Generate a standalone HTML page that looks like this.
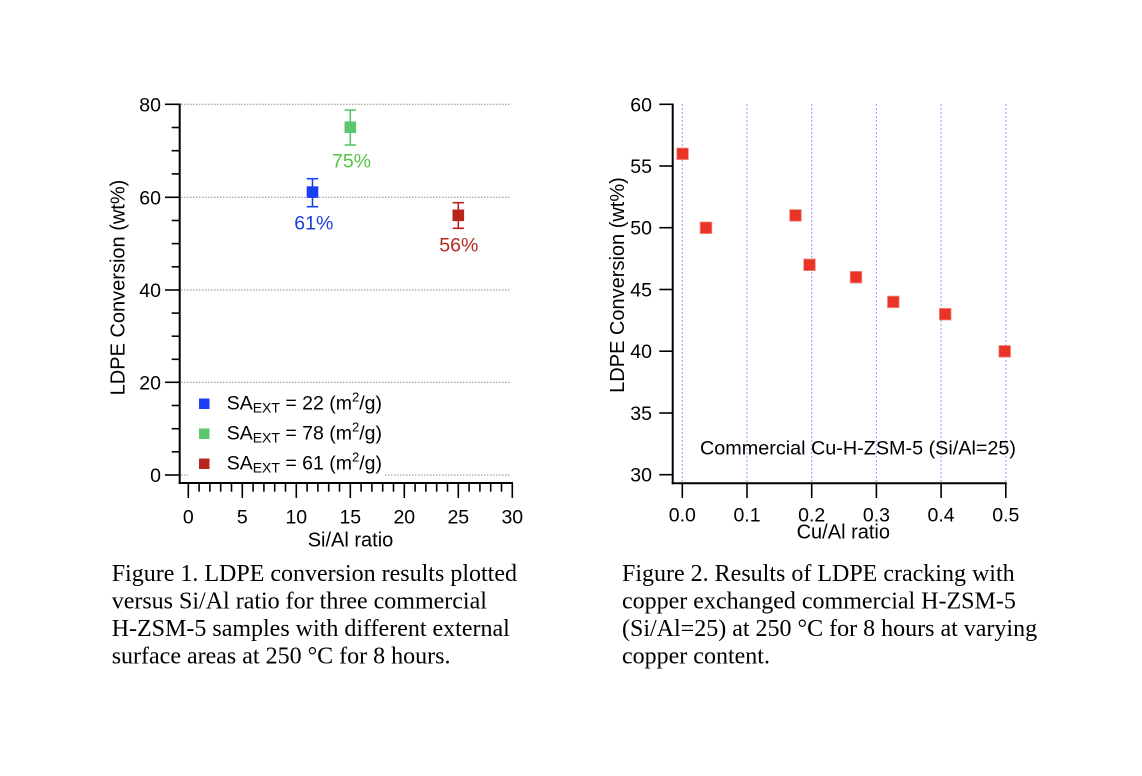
<!DOCTYPE html>
<html>
<head>
<meta charset="utf-8">
<style>
html,body{margin:0;padding:0;background:#fff;}
svg{display:block;}
.t{font-family:"Liberation Sans",Helvetica,Arial,sans-serif;}
.cap{font-family:"Liberation Serif","Times New Roman",serif;font-size:24px;fill:#000;}
</style>
</head>
<body>
<svg width="1142" height="776" viewBox="0 0 1142 776" xmlns="http://www.w3.org/2000/svg">
<rect x="0" y="0" width="1142" height="776" fill="#fff"/>

<!-- ================= CHART 1 ================= -->
<g stroke="#8a8a8a" stroke-width="1" stroke-dasharray="1.5,1.5">
  <line x1="181" y1="104.3" x2="511" y2="104.3"/>
  <line x1="181" y1="197.3" x2="511" y2="197.3"/>
  <line x1="181" y1="290" x2="511" y2="290"/>
  <line x1="181" y1="382.3" x2="511" y2="382.3"/>
  <line x1="181" y1="475" x2="188" y2="475"/>
  <line x1="385" y1="475" x2="511" y2="475"/>
</g>
<!-- axes -->
<g stroke="#000" stroke-width="2" fill="none">
  <line x1="179.7" y1="103.5" x2="179.7" y2="484"/>
  <line x1="178.7" y1="483" x2="513" y2="483"/>
</g>
<!-- y ticks -->
<g stroke="#000" stroke-width="1.6">
  <line x1="165" y1="104.3" x2="180" y2="104.3"/>
  <line x1="165" y1="197.3" x2="180" y2="197.3"/>
  <line x1="165" y1="290" x2="180" y2="290"/>
  <line x1="165" y1="382.3" x2="180" y2="382.3"/>
  <line x1="165" y1="475" x2="180" y2="475"/>
  <line x1="171.7" y1="127.5" x2="180" y2="127.5"/>
  <line x1="171.7" y1="150.7" x2="180" y2="150.7"/>
  <line x1="171.7" y1="173.9" x2="180" y2="173.9"/>
  <line x1="171.7" y1="220.5" x2="180" y2="220.5"/>
  <line x1="171.7" y1="243.6" x2="180" y2="243.6"/>
  <line x1="171.7" y1="266.8" x2="180" y2="266.8"/>
  <line x1="171.7" y1="313.1" x2="180" y2="313.1"/>
  <line x1="171.7" y1="336.2" x2="180" y2="336.2"/>
  <line x1="171.7" y1="359.3" x2="180" y2="359.3"/>
  <line x1="171.7" y1="405.5" x2="180" y2="405.5"/>
  <line x1="171.7" y1="428.7" x2="180" y2="428.7"/>
  <line x1="171.7" y1="451.8" x2="180" y2="451.8"/>
</g>
<!-- x ticks -->
<g stroke="#000" stroke-width="1.6">
  <line x1="188.3" y1="483" x2="188.3" y2="498"/>
  <line x1="242.3" y1="483" x2="242.3" y2="498"/>
  <line x1="296.3" y1="483" x2="296.3" y2="498"/>
  <line x1="350.3" y1="483" x2="350.3" y2="498"/>
  <line x1="404.3" y1="483" x2="404.3" y2="498"/>
  <line x1="458.3" y1="483" x2="458.3" y2="498"/>
  <line x1="512.3" y1="483" x2="512.3" y2="498"/>
  <line x1="199.1" y1="483" x2="199.1" y2="491.7"/>
  <line x1="209.9" y1="483" x2="209.9" y2="491.7"/>
  <line x1="220.7" y1="483" x2="220.7" y2="491.7"/>
  <line x1="231.5" y1="483" x2="231.5" y2="491.7"/>
  <line x1="253.1" y1="483" x2="253.1" y2="491.7"/>
  <line x1="263.9" y1="483" x2="263.9" y2="491.7"/>
  <line x1="274.7" y1="483" x2="274.7" y2="491.7"/>
  <line x1="285.5" y1="483" x2="285.5" y2="491.7"/>
  <line x1="307.1" y1="483" x2="307.1" y2="491.7"/>
  <line x1="317.9" y1="483" x2="317.9" y2="491.7"/>
  <line x1="328.7" y1="483" x2="328.7" y2="491.7"/>
  <line x1="339.5" y1="483" x2="339.5" y2="491.7"/>
  <line x1="361.1" y1="483" x2="361.1" y2="491.7"/>
  <line x1="371.9" y1="483" x2="371.9" y2="491.7"/>
  <line x1="382.7" y1="483" x2="382.7" y2="491.7"/>
  <line x1="393.5" y1="483" x2="393.5" y2="491.7"/>
  <line x1="415.1" y1="483" x2="415.1" y2="491.7"/>
  <line x1="425.9" y1="483" x2="425.9" y2="491.7"/>
  <line x1="436.7" y1="483" x2="436.7" y2="491.7"/>
  <line x1="447.5" y1="483" x2="447.5" y2="491.7"/>
  <line x1="469.1" y1="483" x2="469.1" y2="491.7"/>
  <line x1="479.9" y1="483" x2="479.9" y2="491.7"/>
  <line x1="490.7" y1="483" x2="490.7" y2="491.7"/>
  <line x1="501.5" y1="483" x2="501.5" y2="491.7"/>
</g>
<!-- tick labels -->
<g class="t" font-size="19.5" fill="#000" text-anchor="end">
  <text x="161" y="111.3">80</text>
  <text x="161" y="204.3">60</text>
  <text x="161" y="297">40</text>
  <text x="161" y="389.3">20</text>
  <text x="161" y="482">0</text>
</g>
<g class="t" font-size="19.5" fill="#000" text-anchor="middle">
  <text x="188.3" y="523.3">0</text>
  <text x="242.3" y="523.3">5</text>
  <text x="296.3" y="523.3">10</text>
  <text x="350.3" y="523.3">15</text>
  <text x="404.3" y="523.3">20</text>
  <text x="458.3" y="523.3">25</text>
  <text x="512.3" y="523.3">30</text>
</g>
<text class="t" font-size="20" x="350.5" y="546.5" text-anchor="middle">Si/Al ratio</text>
<text class="t" font-size="20" text-anchor="middle" transform="translate(124.5,287.5) rotate(-90)">LDPE Conversion (wt%)</text>

<!-- data chart 1 -->
<g stroke-width="1.6" fill="none">
  <g stroke="#1b3ff2">
    <line x1="312.5" y1="178.7" x2="312.5" y2="206.7"/>
    <line x1="306.8" y1="178.7" x2="318.2" y2="178.7"/>
    <line x1="306.8" y1="206.7" x2="318.2" y2="206.7"/>
  </g>
  <g stroke="#5cc76f">
    <line x1="350.3" y1="110" x2="350.3" y2="145"/>
    <line x1="344.6" y1="110" x2="356" y2="110"/>
    <line x1="344.6" y1="145" x2="356" y2="145"/>
  </g>
  <g stroke="#b8251d">
    <line x1="458.3" y1="202.7" x2="458.3" y2="228.3"/>
    <line x1="452.6" y1="202.7" x2="464" y2="202.7"/>
    <line x1="452.6" y1="228.3" x2="464" y2="228.3"/>
  </g>
</g>
<rect x="306.7" y="186.3" width="11.6" height="11.6" fill="#1b3ff2"/>
<rect x="344.5" y="121.4" width="11.6" height="11.6" fill="#5cc76f"/>
<rect x="452.5" y="209.5" width="11.6" height="11.6" fill="#b8251d"/>
<g class="t" font-size="19.5" text-anchor="middle">
  <text x="313.8" y="229.3" fill="#1d3fdc">61%</text>
  <text x="351.5" y="167.3" fill="#57c443">75%</text>
  <text x="458.8" y="251.7" fill="#b62a22">56%</text>
</g>

<!-- legend -->
<rect x="199" y="398.5" width="10.5" height="10.5" fill="#1b3ff2"/>
<rect x="199" y="428.5" width="10.5" height="10.5" fill="#5cc76f"/>
<rect x="199" y="458.5" width="10.5" height="10.5" fill="#b8251d"/>
<g class="t" font-size="19.5" fill="#000">
  <text x="226.7" y="409.5">SA<tspan font-size="14" dy="3">EXT</tspan><tspan dy="-3"> = 22 (m</tspan><tspan font-size="13" dy="-8">2</tspan><tspan dy="8">/g)</tspan></text>
  <text x="226.7" y="439.5">SA<tspan font-size="14" dy="3">EXT</tspan><tspan dy="-3"> = 78 (m</tspan><tspan font-size="13" dy="-8">2</tspan><tspan dy="8">/g)</tspan></text>
  <text x="226.7" y="469.5">SA<tspan font-size="14" dy="3">EXT</tspan><tspan dy="-3"> = 61 (m</tspan><tspan font-size="13" dy="-8">2</tspan><tspan dy="8">/g)</tspan></text>
</g>

<!-- ================= CHART 2 ================= -->
<g stroke="#9a9aff" stroke-width="1" stroke-dasharray="2,2">
  <line x1="682.3" y1="104" x2="682.3" y2="483"/>
  <line x1="747" y1="104" x2="747" y2="483"/>
  <line x1="811.7" y1="104" x2="811.7" y2="483"/>
  <line x1="876.4" y1="104" x2="876.4" y2="483"/>
  <line x1="941.1" y1="104" x2="941.1" y2="483"/>
  <line x1="1005.8" y1="104" x2="1005.8" y2="483"/>
</g>
<g stroke="#000" stroke-width="2" fill="none">
  <line x1="672.7" y1="103.5" x2="672.7" y2="484.3"/>
  <line x1="671.7" y1="483.3" x2="1006.8" y2="483.3"/>
</g>
<g stroke="#000" stroke-width="1.6">
  <line x1="659.3" y1="104.3" x2="673" y2="104.3"/>
  <line x1="659.3" y1="166" x2="673" y2="166"/>
  <line x1="659.3" y1="227.7" x2="673" y2="227.7"/>
  <line x1="659.3" y1="289.5" x2="673" y2="289.5"/>
  <line x1="659.3" y1="351.2" x2="673" y2="351.2"/>
  <line x1="659.3" y1="413" x2="673" y2="413"/>
  <line x1="659.3" y1="474.7" x2="673" y2="474.7"/>
  <line x1="682.3" y1="483" x2="682.3" y2="498"/>
  <line x1="747" y1="483" x2="747" y2="498"/>
  <line x1="811.7" y1="483" x2="811.7" y2="498"/>
  <line x1="876.4" y1="483" x2="876.4" y2="498"/>
  <line x1="941.1" y1="483" x2="941.1" y2="498"/>
  <line x1="1005.8" y1="483" x2="1005.8" y2="498"/>
</g>
<g class="t" font-size="19.5" fill="#000" text-anchor="end">
  <text x="652" y="111.3">60</text>
  <text x="652" y="173">55</text>
  <text x="652" y="234.7">50</text>
  <text x="652" y="296.5">45</text>
  <text x="652" y="358.2">40</text>
  <text x="652" y="420">35</text>
  <text x="652" y="481.7">30</text>
</g>
<g class="t" font-size="19.5" fill="#000" text-anchor="middle">
  <text x="682.3" y="521.7">0.0</text>
  <text x="747" y="521.7">0.1</text>
  <text x="811.7" y="521.7">0.2</text>
  <text x="876.4" y="521.7">0.3</text>
  <text x="941.1" y="521.7">0.4</text>
  <text x="1005.8" y="521.7">0.5</text>
</g>
<text class="t" font-size="20" x="843.3" y="538.3" text-anchor="middle">Cu/Al ratio</text>
<text class="t" font-size="20" text-anchor="middle" transform="translate(624,285) rotate(-90)">LDPE Conversion (wt%)</text>
<text class="t" font-size="19.8" x="700" y="454.3">Commercial Cu-H-ZSM-5 (Si/Al=25)</text>

<g fill="#ea3324" stroke="#f08a84" stroke-width="0.8">
  <rect x="676.8" y="148" width="11.6" height="11.6"/>
  <rect x="700.2" y="222" width="11.6" height="11.6"/>
  <rect x="789.7" y="209.6" width="11.6" height="11.6"/>
  <rect x="803.7" y="259" width="11.6" height="11.6"/>
  <rect x="850.2" y="271.4" width="11.6" height="11.6"/>
  <rect x="887.5" y="296.1" width="11.6" height="11.6"/>
  <rect x="939.4" y="308.4" width="11.6" height="11.6"/>
  <rect x="998.9" y="345.5" width="11.6" height="11.6"/>
</g>

<!-- ================= CAPTIONS ================= -->
<g class="cap">
  <text x="111.7" y="581">Figure 1. LDPE conversion results plotted</text>
  <text x="111.7" y="608.5">versus Si/Al ratio for three commercial</text>
  <text x="111.7" y="636">H-ZSM-5 samples with different external</text>
  <text x="111.7" y="663.5">surface areas at 250 °C for 8 hours.</text>
  <text x="622" y="581">Figure 2. Results of LDPE cracking with</text>
  <text x="622" y="608.5">copper exchanged commercial H-ZSM-5</text>
  <text x="622" y="636">(Si/Al=25) at 250 °C for 8 hours at varying</text>
  <text x="622" y="663.5">copper content.</text>
</g>
</svg>
</body>
</html>
